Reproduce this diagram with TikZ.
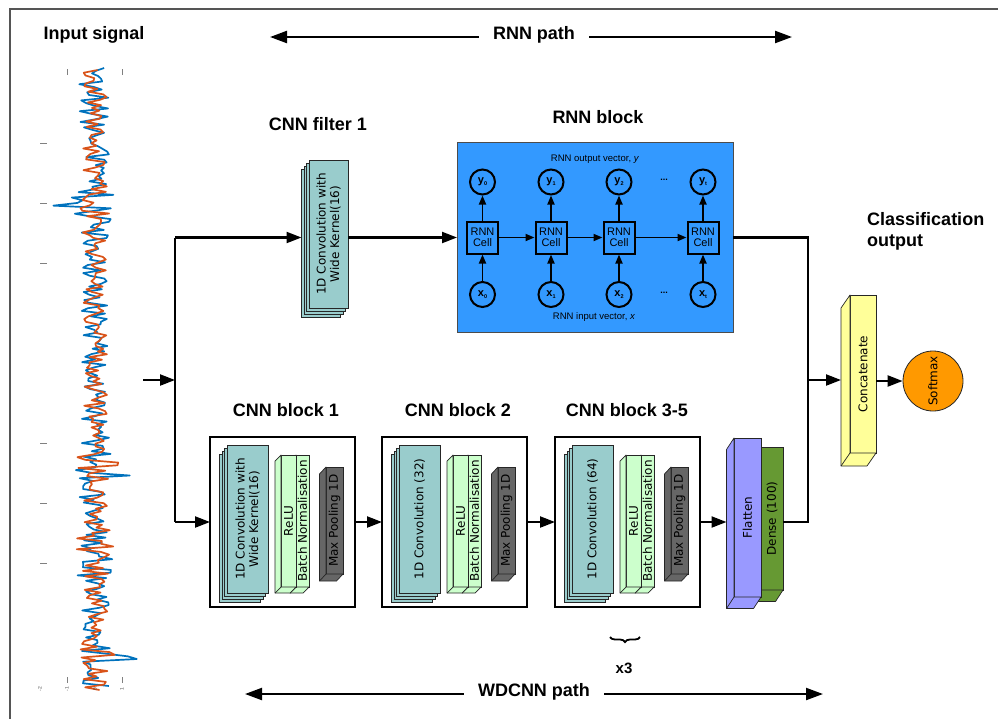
\documentclass[tikz,border=0pt]{standalone}
\usepackage{fontspec}
\setmainfont{Liberation Sans}
\newfontfamily\dvs{DejaVu Sans}
\usetikzlibrary{arrows.meta,decorations.pathreplacing}
\definecolor{rnnblue}{RGB}{51,153,255}
\definecolor{convc}{RGB}{153,204,204}
\definecolor{reluc}{RGB}{204,255,204}
\definecolor{poolc}{RGB}{102,102,102}
\definecolor{flatc}{RGB}{153,153,255}
\definecolor{densec}{RGB}{102,153,51}
\definecolor{concc}{RGB}{255,255,153}
\definecolor{softc}{RGB}{255,153,0}
\definecolor{sigblue}{RGB}{0,114,189}
\definecolor{sigorange}{RGB}{217,83,25}
\definecolor{framegray}{RGB}{85,85,85}
\tikzset{
  heading/.style={font=\fontsize{18}{21}\selectfont\bfseries, inner sep=2pt},
  conn/.style={line width=2.2pt},
  arr/.style={conn,-{Triangle[length=15pt,width=11pt]}},
  rarr/.style={line width=1.8pt,-{Triangle[length=9pt,width=7pt]}},
  patharr/.style={line width=2.2pt,-{Triangle[length=17pt,width=12pt]}},
  blockframe/.style={draw,line width=2pt,fill=white,inner sep=0pt,outer sep=0pt},
  layer/.style={draw=black!85,line width=0.7pt},
  lbl/.style={font=\dvs\fontsize{12}{13.5}\selectfont, rotate=90, align=center, inner sep=0pt},
  cellbox/.style={draw,line width=2pt,fill=rnnblue,minimum width=31pt,minimum height=32pt,inner sep=0pt,align=center,font=\fontsize{11}{11.5}\selectfont},
  vcirc/.style={draw,circle,line width=2pt,fill=rnnblue,minimum size=25pt,inner sep=0pt,font=\fontsize{11}{12}\selectfont\bfseries},
  tick/.style={draw=gray,line width=1pt},
}
\newcommand\rsub[1]{\raisebox{-1.5pt}{\fontsize{5.5}{5.5}\selectfont #1}}
% name, x1, y1, x2, y2 (front face), dx, dy, colour, text
\newcommand\layerbox[9]{%
  \node[layer, fill=#8, minimum width={((#4)-(#2))*1pt}, minimum height={((#5)-(#3))*1pt}, inner sep=0pt, outer sep=0pt] (#1) at ({((#2)+(#4))/2},{((#3)+(#5))/2}) {};
  \filldraw[layer, fill=#8, line join=round] (#1.north west) -- ++(#6,#7) -- ++(0,{(#5)-(#3)}) -- ++({(#4)-(#2)},0) -- (#1.south east) -- (#1.south west) -- cycle;
  \draw[layer] (#1.south west) -- ++(#6,#7);
  \node[lbl] (#1-t) at (#1) {#9};
}
% name, x1, y1, x2, y2, text
\newcommand\convstack[6]{%
  \foreach \k in {3,2,1}{
    \draw[layer, fill=convc] ({(#2)-2.5*\k},{(#3)+3*\k}) rectangle ({(#4)-2.5*\k},{(#5)+3*\k});
  }
  \node[layer, fill=convc, minimum width={((#4)-(#2))*1pt}, minimum height={((#5)-(#3))*1pt}, inner sep=0pt, outer sep=0pt] (#1) at ({((#2)+(#4))/2},{((#3)+(#5))/2}) {};
  \node[lbl] (#1-t) at (#1) {#6};
}
% name, left x, conv text
\newcommand\cnnblock[3]{%
  \node[blockframe, minimum width=145pt, minimum height=170pt] (#1) at ({(#2)+72.5},522) {};
  \convstack{#1-conv}{(#2)+17}{445}{(#2)+58}{593}{#3}
  \layerbox{#1-bn}{(#2)+86}{455}{(#2)+99}{587}{-6}{6}{reluc}{Batch Normalisation}
  \layerbox{#1-relu}{(#2)+71}{455}{(#2)+86}{587}{-6}{6}{reluc}{ReLU}
  \layerbox{#1-pool}{(#2)+116}{467}{(#2)+133}{574}{-6.5}{7}{poolc}{Max Pooling 1D}
}
\begin{document}
\begin{tikzpicture}[x=1pt,y=-1pt,
  declare function={
    ab(\s)=13+34/(1+((\s-204)/5)^2)+30/(1+((\s-476)/7)^2)+30/(1+((\s-658)/6)^2)+6/(1+((\s-100)/20)^2)+12/(1+((\s-565)/8)^2);
    ao(\s)=12+8/(1+((\s-204)/8)^2)+16/(1+((\s-458)/10)^2)+10/(1+((\s-658)/8)^2)+9/(1+((\s-545)/10)^2);
  }]
\useasboundingbox (0,0) rectangle (998,718);
\draw[framegray, line width=1.5pt] (10,722) -- (10,9) -- (1002,9);

% ---------- input signal ----------
\node[heading] (insig) at (94,35) {Input signal};
\pgfmathsetseed{4242}
\draw[sigblue, line width=1.7pt, line join=round] plot[variable=\t, samples=230, domain=68:686] ({95+ab(\t)*rand},\t);
\draw[sigorange, line width=1.7pt, line join=round] plot[variable=\t, samples=230, domain=70:690] ({95+ao(\t)*rand},\t);
\foreach \yy in {143,203,263,443,503,563} \draw[tick] (40,\yy) -- (47,\yy);
\foreach \xx in {67,122} {\draw[tick] (\xx,69) -- (\xx,75); \draw[tick] (\xx,677) -- (\xx,683);}
\foreach \xx/\l in {40/-2,67/-1,95/0,122/1}
  \node[rotate=90, font=\fontsize{5}{5}\selectfont, text=black!70, inner sep=0pt] (tl\xx) at (\xx,689) {\l};

% ---------- path labels ----------
\node[heading] (rnnp) at (534,35) {RNN path};
\coordinate (rpL) at (270,37);
\coordinate (rpR) at (792,37);
\draw[patharr] ([xshift=-12pt]rnnp.west |- rpL) -- (rpL);
\draw[patharr] ([xshift=12pt]rnnp.east |- rpR) -- (rpR);
\node[heading] (wdp) at (534,692) {WDCNN path};
\coordinate (wpL) at (245,694);
\coordinate (wpR) at (823,694);
\draw[patharr] ([xshift=-12pt]wdp.west |- wpL) -- (wpL);
\draw[patharr] ([xshift=12pt]wdp.east |- wpR) -- (wpR);

% ---------- headings ----------
\node[heading] (hf1) at (318,124) {CNN filter 1};
\node[heading] (hrnn) at (598,117) {RNN block};
\node[heading] (hb1) at (286,410) {CNN block 1};
\node[heading] (hb2) at (458,410) {CNN block 2};
\node[heading] (hb3) at (627,410) {CNN block 3-5};
\node[heading, align=left, anchor=west] (hcls) at (865,231) {Classification\\output};

% ---------- CNN filter 1 ----------
\convstack{f1}{309}{160}{348}{308}{1D Convolution with\\Wide Kernel(16)}

% ---------- RNN block ----------
\node[draw=black!70, line width=0.8pt, fill=rnnblue, minimum width=276pt, minimum height=190pt, inner sep=0pt, outer sep=0pt] (rnn) at (595,237.5) {};
\node[font=\fontsize{9.5}{10}\selectfont] (rout) at (595,159) {RNN output vector, \textit{y}};
\node[font=\fontsize{9.5}{10}\selectfont] (rin) at (594,317) {RNN input vector, \textit{x}};
\foreach \i/\xx/\s in {0/482.5/0,1/551/1,2/619/2,3/703/t} {
  \node[cellbox] (c\i) at (\xx,237.5) {RNN\\Cell};
  \node[vcirc] (y\i) at (\xx,182) {y\rsub{\s}};
  \node[vcirc] (x\i) at (\xx,294.5) {x\rsub{\s}};
  \draw[rarr] (x\i) -- (c\i);
  \draw[rarr] (c\i) -- (y\i);
}
\foreach \a/\b in {0/1,1/2,2/3} \draw[rarr] (c\a) -- (c\b);
\node[font=\fontsize{9}{10}\selectfont\bfseries] (dy) at (664,180) {...};
\node[font=\fontsize{9}{10}\selectfont\bfseries] (dx) at (664,293) {...};

% ---------- CNN blocks ----------
\cnnblock{b1}{210}{1D Convolution with\\Wide Kernel(16)}
\cnnblock{b2}{382}{1D Convolution (32)}
\cnnblock{b3}{555}{1D Convolution (64)}

% ---------- flatten / dense / concat / softmax ----------
\layerbox{dense}{761}{447}{783}{590}{-7.5}{11.5}{densec}{Dense (100)}
\layerbox{flat}{734}{438}{761}{597}{-7.5}{11.5}{flatc}{Flatten}
\layerbox{conc}{850}{295}{876}{453}{-9}{13}{concc}{Concatenate}
\node[draw=black!85, line width=0.8pt, circle, fill=softc, minimum size=60pt, inner sep=0pt] (soft) at (933,381) {};
\node[lbl] (soft-t) at (soft) {Softmax};

% ---------- brace ----------
\coordinate (brL) at (610,637);
\coordinate (brR) at (640,637);
\draw[decorate, decoration={brace, amplitude=5pt, mirror}, line width=1.8pt] (brL) -- (brR);
\node[font=\fontsize{15}{17}\selectfont\bfseries] (x3) at (624,668) {x3};

% ---------- connectors ----------
\coordinate (inS) at (143,380);
\coordinate (split) at (175,380);
\coordinate (splitT) at (175,237.5);
\coordinate (splitB) at (175,522);
\coordinate (joinT) at (808,237.5);
\coordinate (joinM) at (808,380);
\coordinate (joinB) at (808,522);
\draw[arr] (inS) -- (split);
\draw[conn] (splitT) -- (splitB);
\draw[arr] (splitT) -- ([xshift=-7.5pt]f1.west |- splitT);
\draw[arr] (f1.east |- rnn.west) -- (rnn.west);
\draw[arr] (splitB) -- (b1.west);
\draw[arr] (b1.east) -- (b2.west);
\draw[arr] (b2.east) -- (b3.west);
\draw[arr] (b3.east) -- ([xshift=-7.5pt]flat.west |- b3.east);
\draw[conn] (rnn.east) -- (joinT) -- (joinB) -- (dense.east |- joinB);
\draw[arr] (joinM) -- ([xshift=-9pt]conc.west |- joinM);
\draw[arr] (conc.east |- soft.west) -- (soft.west);
\end{tikzpicture}
\end{document}
